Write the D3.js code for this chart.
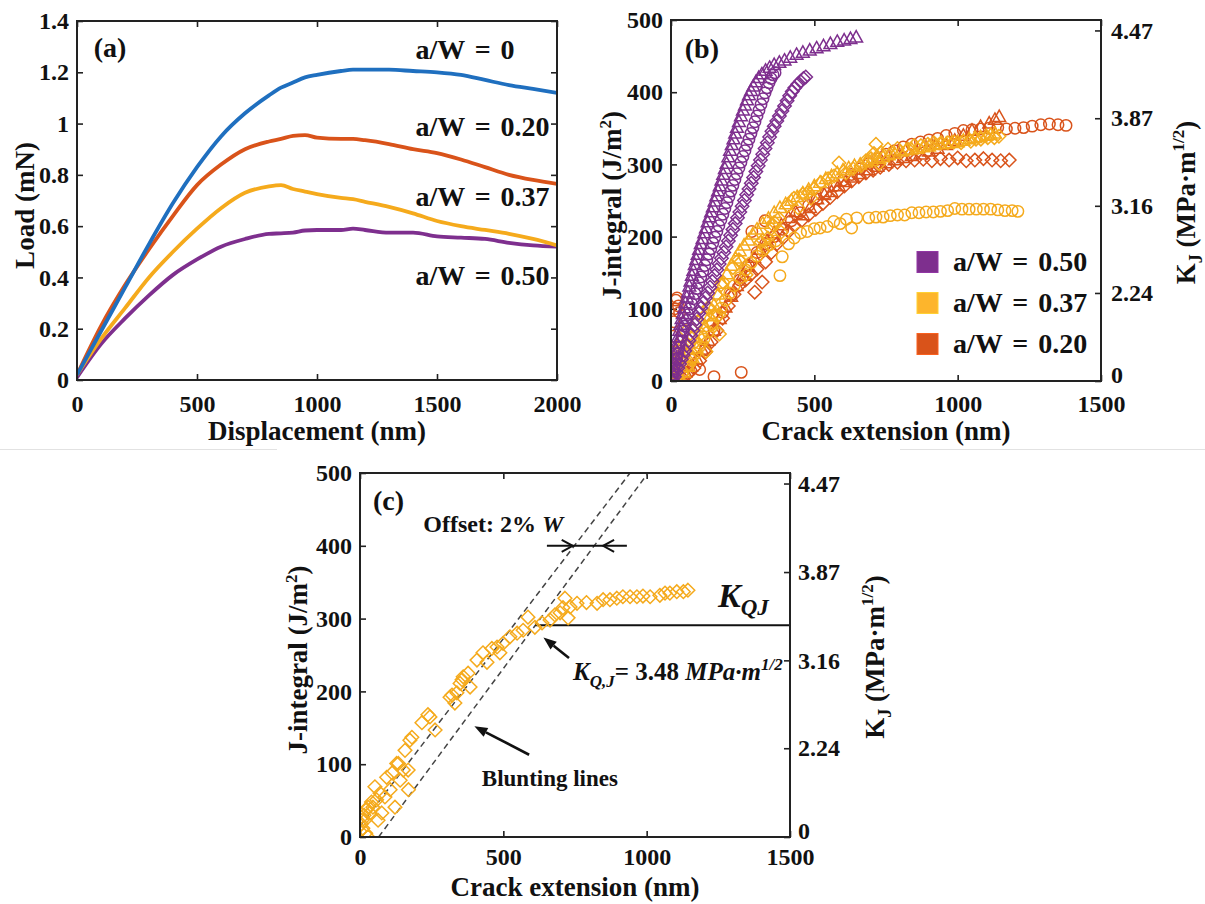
<!DOCTYPE html>
<html>
<head>
<meta charset="utf-8">
<script src="https://cdn.jsdelivr.net/npm/d3@7"></script>
<style>
  body { margin: 0; background: #fff; }
  svg text { font-family: "Liberation Serif", "Times New Roman", serif; font-weight: bold; fill: #111; }
</style>
</head>
<body>
<div id="chart"></div>
<script>
// ---------- data: panel (a) load-displacement ----------
const dispX = [0, 100, 200, 300, 400, 500, 600, 700, 800, 850, 900, 950, 1000, 1100, 1150, 1200, 1300, 1400, 1500, 1600, 1700, 1800, 1900, 2000];
const loadAW0   = [0.02, 0.19, 0.36, 0.53, 0.69, 0.83, 0.95, 1.04, 1.11, 1.14, 1.16, 1.18, 1.19, 1.205, 1.21, 1.21, 1.21, 1.205, 1.2, 1.19, 1.17, 1.15, 1.135, 1.12];
const loadAW020 = [0.02, 0.21, 0.37, 0.51, 0.64, 0.76, 0.84, 0.9, 0.93, 0.94, 0.952, 0.955, 0.945, 0.94, 0.94, 0.935, 0.92, 0.9, 0.885, 0.86, 0.83, 0.8, 0.78, 0.765];
const loadAW037 = [0.02, 0.16, 0.28, 0.4, 0.5, 0.59, 0.67, 0.73, 0.755, 0.76, 0.745, 0.735, 0.725, 0.71, 0.705, 0.695, 0.675, 0.65, 0.62, 0.6, 0.585, 0.57, 0.55, 0.525];
const loadAW050 = [0.01, 0.14, 0.24, 0.33, 0.41, 0.47, 0.52, 0.55, 0.57, 0.572, 0.575, 0.583, 0.585, 0.585, 0.59, 0.585, 0.575, 0.575, 0.56, 0.555, 0.55, 0.535, 0.525, 0.52];

// ---------- data: panel (b) J-R curves [crack extension nm, J] ----------
const aw50Tri = [[2,4],[5,12],[8,20],[11,28],[14,36],[17,44],[21,52],[25,61],[29,70],[33,78],[37,86],[41,93],[46,101],[50,108],[55,116],[59,123],[64,131],[68,138],[73,146],[78,153],[83,161],[88,168],[93,175],[98,182],[104,190],[110,197],[116,205],[122,212],[128,220],[134,227],[140,234],[146,241],[152,249],[158,256],[164,263],[170,270],[176,278],[182,286],[188,294],[194,301],[200,310],[206,319],[212,327],[218,335],[224,343],[230,351],[237,359],[244,367],[251,375],[258,382],[265,389],[272,396],[279,402],[287,408],[296,414],[306,420],[317,425],[330,430],[344,434],[360,438],[378,441],[396,444],[416,448],[438,452],[460,455],[484,458],[508,461],[532,464],[556,467],[580,470],[604,472],[626,474],[646,476]];
const aw50Circle = [[3,3],[7,10],[11,17],[15,24],[19,31],[23,38],[28,46],[33,54],[38,62],[43,69],[48,76],[54,84],[60,92],[66,100],[72,107],[78,114],[84,121],[90,128],[97,136],[104,144],[111,152],[118,160],[125,168],[132,176],[139,183],[146,191],[153,199],[160,207],[167,215],[174,223],[181,231],[188,239],[195,247],[202,255],[209,263],[216,271],[223,279],[230,287],[237,295],[244,303],[251,311],[258,319],[265,327],[272,335],[279,343],[286,351],[293,359],[300,367],[307,375],[314,383],[321,391],[328,399],[335,406],[342,413],[349,419],[356,424],[363,427]];
const aw50Dia = [[6,1],[12,6],[18,12],[24,18],[30,24],[36,30],[42,36],[48,42],[55,49],[62,56],[69,63],[76,70],[83,78],[90,86],[97,94],[104,101],[112,108],[120,115],[128,122],[136,130],[144,138],[152,146],[160,154],[168,162],[176,170],[184,178],[192,186],[200,194],[208,202],[216,210],[224,218],[232,226],[240,234],[248,242],[256,250],[264,258],[272,266],[280,274],[288,282],[296,290],[304,298],[312,306],[320,314],[328,322],[336,330],[344,338],[352,346],[360,353],[369,360],[378,367],[387,374],[396,381],[405,388],[414,395],[423,401],[432,406],[442,411],[452,415],[462,419],[470,421]];

const aw37Circle = [[10,0],[25,5],[40,12],[55,20],[70,29],[85,38],[100,48],[115,58],[130,68],[145,79],[160,90],[175,101],[190,112],[205,122],[220,132],[240,143],[260,154],[280,164],[300,173],[320,181],[345,189],[365,194],[380,146],[388,172],[410,190],[430,198],[452,205],[475,207],[500,211],[520,212],[545,214],[568,221],[590,218],[612,224],[630,212],[648,226],[690,226],[715,227],[740,227],[765,229],[790,230],[815,230],[840,233],[865,233],[890,234],[915,234],[940,235],[965,236],[990,239],[1015,238],[1040,238],[1065,238],[1090,238],[1115,238],[1140,237],[1165,236],[1190,236],[1210,235]];
const aw37Tri = [[10,0],[30,5],[45,12],[60,20],[75,32],[90,45],[105,60],[120,75],[135,90],[150,105],[165,120],[180,135],[195,148],[210,160],[225,170],[240,180],[255,188],[270,195],[285,203],[300,210],[320,218],[340,225],[360,233],[380,240],[400,245],[420,250],[440,255],[460,260],[480,265],[500,270],[520,275],[540,280],[560,284],[580,288],[600,292],[620,295],[640,298],[660,300],[680,303],[700,305],[720,308],[740,310],[760,313],[780,315],[800,318],[820,320],[840,321],[860,322],[880,324],[900,325],[920,327],[940,328],[960,329],[980,330],[1000,331],[1020,333],[1040,335],[1060,337],[1080,338],[1100,340],[1115,341],[1130,343]];
// this specimen is also the one shown in panel (c)
const aw37Dia = [[0,8],[4,18],[7,23],[10,12],[14,30],[17,23],[20,5],[24,38],[28,0],[28,41],[35,33],[40,48],[45,41],[52,69],[58,51],[63,23],[70,60],[76,33],[87,55],[93,82],[105,65],[112,88],[122,41],[128,101],[134,101],[140,78],[151,92],[157,119],[168,92],[169,65],[174,133],[181,137],[216,157],[237,168],[244,165],[262,147],[314,192],[321,195],[331,184],[338,198],[349,211],[356,216],[360,220],[377,225],[384,206],[408,243],[429,253],[443,240],[460,259],[478,261],[488,253],[499,266],[523,275],[548,280],[569,284],[586,302],[610,288],[635,294],[663,298],[680,305],[698,308],[708,315],[715,328],[726,301],[733,316],[757,321],[790,322],[827,321],[848,326],[872,326],[896,328],[917,330],[942,330],[966,330],[987,331],[1012,330],[1046,332],[1064,335],[1081,335],[1105,337],[1128,337],[1144,339]];

const aw20Circle = [[5,62],[10,82],[14,100],[17,112],[21,115],[26,104],[30,95],[8,40],[3,20],[20,30],[40,18],[60,12],[100,16],[150,6],[245,12],[120,45],[150,70],[180,95],[210,120],[240,140],[270,160],[282,207],[300,178],[328,222],[330,190],[360,200],[390,210],[420,222],[450,233],[480,243],[510,252],[540,260],[570,270],[600,278],[630,286],[660,294],[690,301],[720,308],[750,314],[780,319],[810,324],[840,328],[870,331],[900,334],[930,336],[960,340],[990,343],[1020,347],[1050,348],[1080,349],[1110,350],[1140,351],[1170,349],[1200,350],[1230,351],[1260,353],[1290,355],[1320,356],[1350,355],[1378,354]];
const aw20Tri = [[15,2],[30,6],[50,12],[70,20],[90,30],[110,42],[130,56],[150,70],[170,86],[190,102],[210,117],[230,132],[250,146],[270,159],[290,171],[310,182],[335,194],[360,205],[385,216],[410,226],[435,234],[460,230],[485,240],[510,252],[535,258],[560,262],[585,270],[610,276],[635,282],[660,287],[690,292],[720,297],[750,302],[780,306],[810,309],[840,312],[870,314],[900,318],[930,322],[960,327],[990,333],[1020,340],[1050,347],[1080,352],[1110,357],[1130,362],[1145,366]];
const aw20Dia = [[20,0],[40,4],[60,10],[80,18],[100,28],[120,40],[140,54],[160,70],[180,87],[200,104],[220,120],[240,133],[260,140],[280,148],[292,123],[300,155],[318,137],[330,165],[350,178],[370,190],[390,198],[410,207],[430,215],[455,222],[480,230],[505,238],[530,246],[555,254],[580,262],[605,270],[630,277],[655,283],[680,288],[705,292],[730,296],[760,300],[790,303],[820,305],[850,306],[880,307],[910,305],[940,308],[970,306],[1000,309],[1030,305],[1060,306],[1090,308],[1120,306],[1150,305],[1180,306]];

// ---------- axis ticks ----------
const loadTicks = [0, 0.2, 0.4, 0.6, 0.8, 1, 1.2, 1.4];
const dispTicks = [0, 500, 1000, 1500, 2000];
const crackTicks = [0, 500, 1000, 1500];
const jTicks = [0, 100, 200, 300, 400, 500];
const kTicks = [0, 2.24, 3.16, 3.87, 4.47];
const jPerK2 = 24.3;   // J = K^2 * jPerK2 on the right axis

// ---------- panel (c) annotations (data units) ----------
const bluntLines = [[[0, 15], [942, 500]], [[65, 0], [1005, 500]]];
const kqLine = { x0: 612, x1: 1500, j: 291 };
const offsetArrow = { j: 400, x0: 652, x1: 931, tipL: 742, tipR: 848 };

const colors = { aw0: "#1f6fbf", aw20: "#d9531a", aw37: "#f5aa1c", aw50: "#7e2f8e" };

const W = 1205, H = 904;
const svg = d3.select("#chart").append("svg").attr("width", W).attr("height", H);

// faint page rule between the rows
svg.append("line").attr("x1", 0).attr("x2", 277).attr("y1", 449.5).attr("y2", 449.5).attr("stroke", "#e2e2e2");
svg.append("line").attr("x1", 900).attr("x2", W).attr("y1", 449.5).attr("y2", 449.5).attr("stroke", "#e2e2e2");

const A = { left: 77, right: 557, top: 21, bottom: 380 };
const B = { left: 671, right: 1101, top: 20, bottom: 381 };
const C = { left: 360, right: 790, top: 473, bottom: 837 };

function styleAxis(g) {
    g.select(".domain").remove();
    g.selectAll(".tick line").attr("stroke", "#222").attr("stroke-width", 1.6);
    g.selectAll(".tick text").attr("font-size", 24).attr("fill", "#111")
        .style("font-family", '"Liberation Serif","Times New Roman",serif').style("font-weight", "bold");
}

function frame(box) {
    svg.append("rect").attr("x", box.left).attr("y", box.top)
        .attr("width", box.right - box.left).attr("height", box.bottom - box.top)
        .attr("fill", "none").attr("stroke", "#222").attr("stroke-width", 2);
}

function clip(id, box) {
    svg.append("clipPath").attr("id", id).append("rect")
        .attr("x", box.left).attr("y", box.top)
        .attr("width", box.right - box.left).attr("height", box.bottom - box.top);
}

// ======================= panel (a) =======================
const xa = d3.scaleLinear().domain([0, 2000]).range([A.left, A.right]);
const ya = d3.scaleLinear().domain([0, 1.4]).range([A.bottom, A.top]);
clip("clipA", A);

svg.append("g").attr("transform", `translate(0,${A.bottom})`)
    .call(d3.axisBottom(xa).tickValues(dispTicks).tickSize(-6).tickPadding(15).tickFormat(d3.format("d")))
    .call(styleAxis);
svg.append("g").attr("transform", `translate(0,${A.top})`)
    .call(d3.axisTop(xa).tickValues(dispTicks).tickSize(-6).tickFormat(""))
    .call(styleAxis);
svg.append("g").attr("transform", `translate(${A.left},0)`)
    .call(d3.axisLeft(ya).tickValues(loadTicks).tickSize(-6).tickPadding(8).tickFormat(d => d3.format("")(d)))
    .call(styleAxis);
svg.append("g").attr("transform", `translate(${A.right},0)`)
    .call(d3.axisRight(ya).tickValues(loadTicks).tickSize(-6).tickFormat(""))
    .call(styleAxis);

const lineA = d3.line().x((d, i) => xa(dispX[i])).y(d => ya(d)).curve(d3.curveMonotoneX);
const curvesA = [
    { v: loadAW050, c: colors.aw50 },
    { v: loadAW037, c: colors.aw37 },
    { v: loadAW020, c: colors.aw20 },
    { v: loadAW0, c: colors.aw0 }
];
svg.append("g").attr("clip-path", "url(#clipA)")
    .selectAll("path").data(curvesA).join("path")
    .attr("d", d => lineA(d.v))
    .attr("fill", "none").attr("stroke", d => d.c).attr("stroke-width", 3.8)
    .attr("stroke-linejoin", "round");
frame(A);

svg.append("text").attr("x", xa(70)).attr("y", ya(1.26)).attr("font-size", 28).text("(a)");
const aLabels = [
    { t: "a/W = 0", v: 1.25 },
    { t: "a/W = 0.20", v: 0.95 },
    { t: "a/W = 0.37", v: 0.677 },
    { t: "a/W = 0.50", v: 0.372 }
];
svg.append("g").selectAll("text").data(aLabels).join("text")
    .attr("x", xa(1410)).attr("y", d => ya(d.v))
    .attr("font-size", 28).attr("word-spacing", 3).text(d => d.t);

svg.append("text").attr("x", (A.left + A.right) / 2).attr("y", 440)
    .attr("text-anchor", "middle").attr("font-size", 27).text("Displacement (nm)");
svg.append("text").attr("transform", `translate(34,${(A.top + A.bottom) / 2 + 5}) rotate(-90)`)
    .attr("text-anchor", "middle").attr("font-size", 27).text("Load (mN)");

// ======================= J-R panels (b) & (c) =======================
const diamond = r => `M0,${-r}L${r},0L0,${r}L${-r},0Z`;
const triangle = r => `M0,${-r}L${r * 0.95},${r * 0.7}L${-r * 0.95},${r * 0.7}Z`;

function jrAxes(box, xPad, rightPad, titleX, rightTitleX, xTitleY, clipId) {
    const x = d3.scaleLinear().domain([0, 1500]).range([box.left, box.right]);
    const y = d3.scaleLinear().domain([0, 500]).range([box.bottom, box.top]);
    clip(clipId, box);

    svg.append("g").attr("transform", `translate(0,${box.bottom})`)
        .call(d3.axisBottom(x).tickValues(crackTicks).tickSize(-6).tickPadding(xPad).tickFormat(d3.format("d")))
        .call(styleAxis);
    svg.append("g").attr("transform", `translate(0,${box.top})`)
        .call(d3.axisTop(x).tickValues(crackTicks).tickSize(-6).tickFormat(""))
        .call(styleAxis);
    svg.append("g").attr("transform", `translate(${box.left},0)`)
        .call(d3.axisLeft(y).tickValues(jTicks).tickSize(-6).tickPadding(8).tickFormat(d3.format("d")))
        .call(styleAxis);
    const right = svg.append("g").attr("transform", `translate(${box.right},0)`)
        .call(d3.axisRight(y).tickValues(kTicks.map(k => k * k * jPerK2)).tickSize(-6).tickPadding(rightPad)
            .tickFormat((d, i) => i === 0 ? "0" : d3.format(".2f")(kTicks[i])))
        .call(styleAxis);
    // the "0" of the K axis sits a little higher, clear of the 1500 label
    right.select(".tick text").attr("dy", "0.05em");

    const cy = (box.top + box.bottom) / 2;
    svg.append("text").attr("x", (box.left + box.right) / 2).attr("y", xTitleY)
        .attr("text-anchor", "middle").attr("font-size", 27).text("Crack extension (nm)");

    const lt = svg.append("text").attr("transform", `translate(${titleX},${cy + 5}) rotate(-90)`)
        .attr("text-anchor", "middle").attr("font-size", 27);
    lt.append("tspan").text("J-integral (J/m");
    lt.append("tspan").attr("dy", -10).attr("font-size", 17).text("2");
    lt.append("tspan").attr("dy", 10).text(")");

    const rt = svg.append("text").attr("transform", `translate(${rightTitleX},${cy + 2}) rotate(-90)`)
        .attr("text-anchor", "middle").attr("font-size", 27);
    rt.append("tspan").text("K");
    rt.append("tspan").attr("dy", 7).attr("font-size", 18).text("J");
    rt.append("tspan").attr("dy", -7).text(" (MPa·m");
    rt.append("tspan").attr("dy", -11).attr("font-size", 17).text("1/2");
    rt.append("tspan").attr("dy", 11).text(")");
    return { x, y };
}

function scatter(sc, data, shape, color, clipId, r) {
    const g = svg.append("g").attr("clip-path", `url(#${clipId})`);
    const sel = g.selectAll("path").data(data).join("path")
        .attr("transform", d => `translate(${sc.x(d[0])},${sc.y(d[1])})`)
        .attr("fill", "none").attr("stroke", color).attr("stroke-width", 1.5);
    if (shape === "circle") sel.attr("d", d3.symbol(d3.symbolCircle, Math.PI * r * r)());
    if (shape === "tri") sel.attr("d", triangle(r + 1));
    if (shape === "dia") sel.attr("d", diamond(r + 1));
}

// ---------- panel (b) ----------
const sb = jrAxes(B, 14, 10, 621, 1195, 440, "clipB");
scatter(sb, aw20Dia, "dia", colors.aw20, "clipB", 5.7);
scatter(sb, aw20Tri, "tri", colors.aw20, "clipB", 5.7);
scatter(sb, aw20Circle, "circle", colors.aw20, "clipB", 5.7);
scatter(sb, aw37Tri, "tri", colors.aw37, "clipB", 5.7);
scatter(sb, aw37Dia, "dia", colors.aw37, "clipB", 5.7);
scatter(sb, aw37Circle, "circle", colors.aw37, "clipB", 5.7);
scatter(sb, aw50Dia, "dia", colors.aw50, "clipB", 5.7);
scatter(sb, aw50Circle, "circle", colors.aw50, "clipB", 5.7);
scatter(sb, aw50Tri, "tri", colors.aw50, "clipB", 5.7);
frame(B);
svg.append("text").attr("x", sb.x(48)).attr("y", sb.y(447)).attr("font-size", 28).text("(b)");

const legendItems = [
    { t: "a/W = 0.50", c: colors.aw50 },
    { t: "a/W = 0.37", c: "#fdb52c" },
    { t: "a/W = 0.20", c: colors.aw20 }
];
const lg = svg.append("g").attr("transform", `translate(${B.left + 246},262)`);
lg.selectAll("rect").data(legendItems).join("rect")
    .attr("x", 0).attr("y", (d, i) => i * 41 - 10.5).attr("width", 21).attr("height", 21)
    .attr("fill", d => d.c).attr("stroke", d => d3.color(d.c).brighter(0.4)).attr("stroke-width", 1);
lg.selectAll("text").data(legendItems).join("text")
    .attr("x", 36).attr("y", (d, i) => i * 41 + 9).attr("font-size", 28).attr("word-spacing", 3)
    .text(d => d.t);

// ---------- panel (c) ----------
const scc = jrAxes(C, 11, 8, 307, 884, 896, "clipC");
const gC = svg.append("g").attr("clip-path", "url(#clipC)");
gC.selectAll("line.blunt").data(bluntLines).join("line").attr("class", "blunt")
    .attr("x1", d => scc.x(d[0][0])).attr("y1", d => scc.y(d[0][1]))
    .attr("x2", d => scc.x(d[1][0])).attr("y2", d => scc.y(d[1][1]))
    .attr("stroke", "#444").attr("stroke-width", 1.5).attr("stroke-dasharray", "6,4");
scatter(scc, aw37Dia, "dia", colors.aw37, "clipC", 5.8);
gC.append("line")
    .attr("x1", scc.x(kqLine.x0)).attr("x2", scc.x(kqLine.x1))
    .attr("y1", scc.y(kqLine.j)).attr("y2", scc.y(kqLine.j))
    .attr("stroke", "#111").attr("stroke-width", 2);
frame(C);

svg.append("text").attr("x", scc.x(45)).attr("y", scc.y(449)).attr("font-size", 28).text("(c)");

const off = svg.append("text").attr("x", scc.x(221)).attr("y", scc.y(419)).attr("font-size", 24);
off.append("tspan").text("Offset: 2% ");
off.append("tspan").attr("font-style", "italic").text("W");

// offset arrows between the two blunting lines
const oy = scc.y(offsetArrow.j);
const tipL = scc.x(offsetArrow.tipL), tipR = scc.x(offsetArrow.tipR);
svg.append("line").attr("x1", scc.x(offsetArrow.x0)).attr("x2", scc.x(offsetArrow.x1)).attr("y1", oy).attr("y2", oy)
    .attr("stroke", "#111").attr("stroke-width", 2);
svg.append("path").attr("d", `M${tipL - 11},${oy - 6}L${tipL},${oy}L${tipL - 11},${oy + 6}`)
    .attr("fill", "none").attr("stroke", "#111").attr("stroke-width", 2);
svg.append("path").attr("d", `M${tipR + 11},${oy - 6}L${tipR},${oy}L${tipR + 11},${oy + 6}`)
    .attr("fill", "none").attr("stroke", "#111").attr("stroke-width", 2);

function arrow(x1, y1, x2, y2) {
    const a = Math.atan2(y2 - y1, x2 - x1), L = 13, w = 5;
    const bx = x2 - L * Math.cos(a), by = y2 - L * Math.sin(a);
    svg.append("line").attr("x1", x1).attr("y1", y1).attr("x2", bx).attr("y2", by)
        .attr("stroke", "#111").attr("stroke-width", 2.6);
    svg.append("path").attr("d",
        `M${x2},${y2}L${bx + w * Math.sin(a)},${by - w * Math.cos(a)}L${bx - w * Math.sin(a)},${by + w * Math.cos(a)}Z`)
        .attr("fill", "#111");
}
arrow(scc.x(729), scc.y(246), scc.x(640), scc.y(274));
arrow(scc.x(590), scc.y(113), scc.x(399), scc.y(152));

svg.append("text").attr("x", scc.x(425)).attr("y", scc.y(70)).attr("font-size", 23).text("Blunting lines");

const kq = svg.append("text").attr("x", scc.x(743)).attr("y", scc.y(216)).attr("font-size", 25);
kq.append("tspan").attr("font-style", "italic").text("K");
kq.append("tspan").attr("font-style", "italic").attr("dy", 7).attr("font-size", 17).text("Q,J");
kq.append("tspan").attr("dy", -7).text("= 3.48 ");
kq.append("tspan").attr("font-style", "italic").text("MPa·m");
kq.append("tspan").attr("font-style", "italic").attr("dy", -10).attr("font-size", 17).text("1/2");

const kqBig = svg.append("text").attr("x", scc.x(1249)).attr("y", scc.y(316)).attr("font-size", 34);
kqBig.append("tspan").attr("font-style", "italic").text("K");
kqBig.append("tspan").attr("font-style", "italic").attr("dy", 8).attr("font-size", 23).text("QJ");
</script>
</body>
</html>
